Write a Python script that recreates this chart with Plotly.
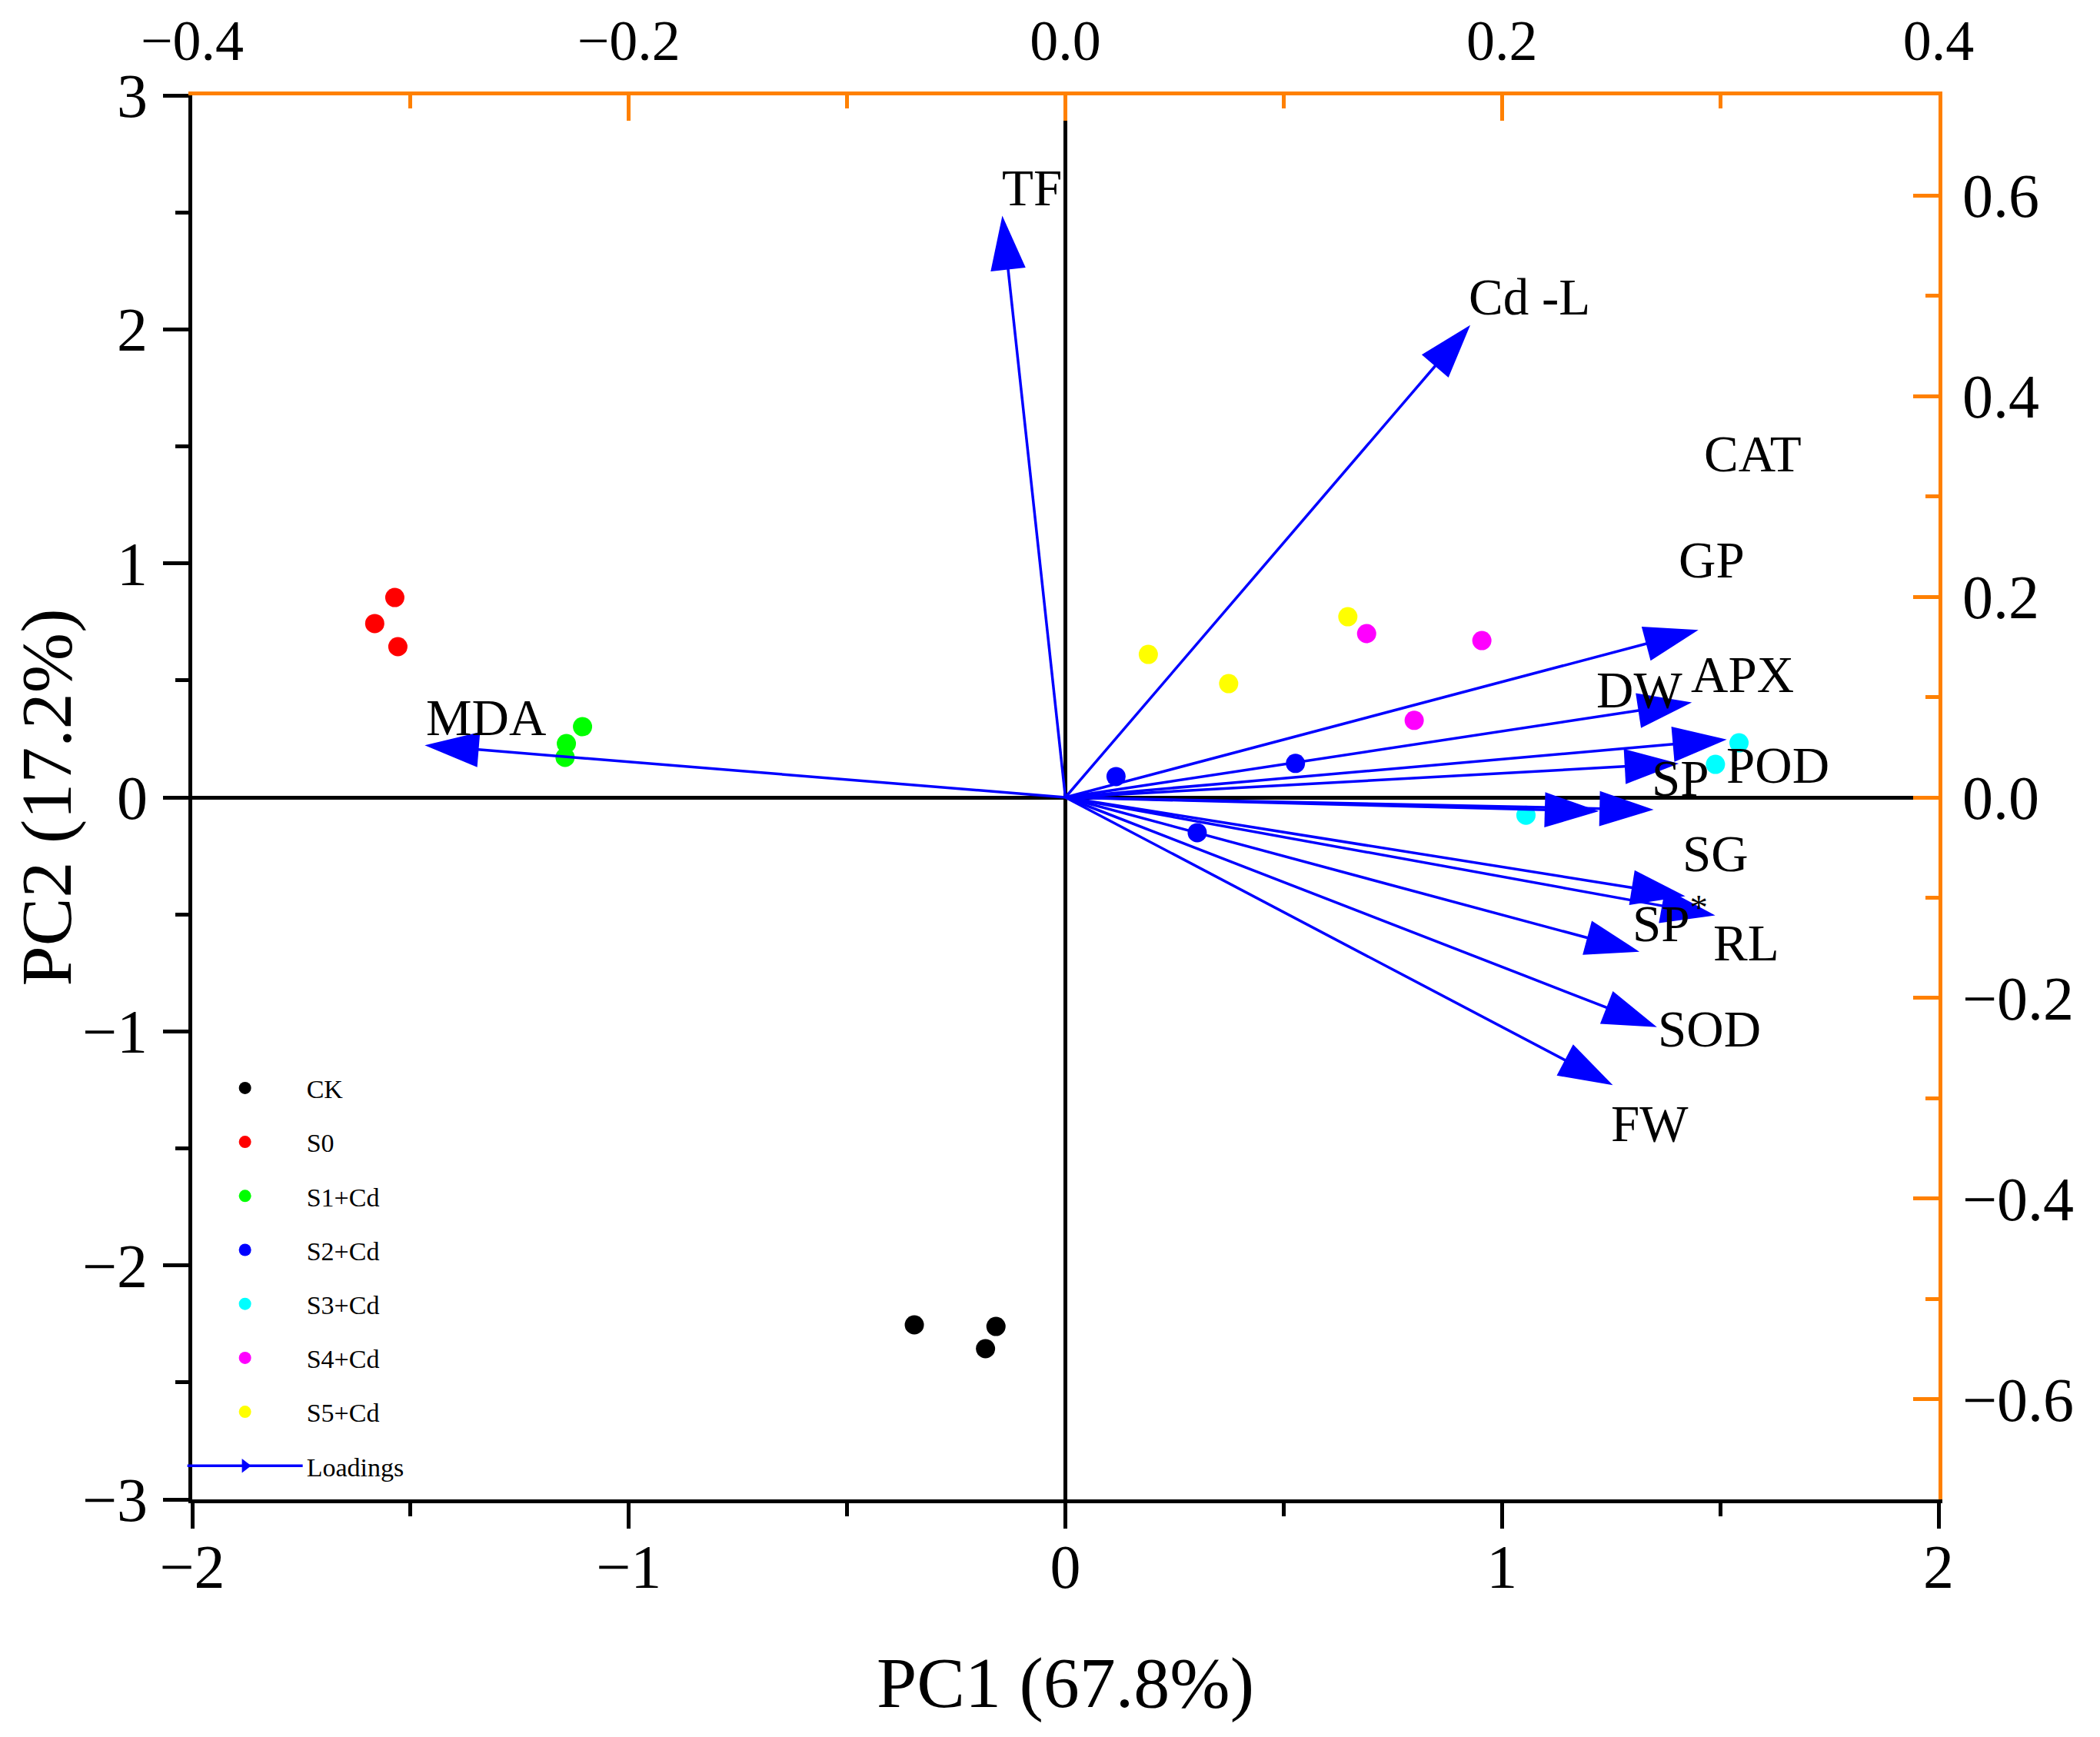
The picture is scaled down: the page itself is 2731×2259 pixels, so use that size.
import plotly.graph_objects as go

# ---- scores (PC1, PC2) ----
groups = ["CK", "S0", "S1+Cd", "S2+Cd", "S3+Cd", "S4+Cd", "S5+Cd"]
group_colors = ["#000000", "#FF0000", "#00FF00", "#0000FF", "#00FFFF", "#FF00FF", "#FFFF00"]
pc1_scores = [
    [-0.346, -0.159, -0.183],
    [-1.536, -1.582, -1.529],
    [-1.106, -1.143, -1.146],
    [0.116, 0.527, 0.302],
    [1.543, 1.489, 1.055],
    [0.690, 0.954, 0.799],
    [0.190, 0.374, 0.647],
]
pc2_scores = [
    [-2.254, -2.261, -2.356],
    [0.854, 0.743, 0.644],
    [0.302, 0.230, 0.171],
    [0.089, 0.145, -0.151],
    [0.233, 0.141, -0.076],
    [0.700, 0.670, 0.329],
    [0.611, 0.486, 0.772],
]

# ---- loadings (arrow tips on top / right axes) ----
load_x = [-0.0289, 0.1855, -0.2935, 0.290, 0.287, 0.303, 0.281, 0.2444, 0.2695, 0.284, 0.2977, 0.263, 0.271, 0.2508]
load_y = [0.580, 0.471, 0.052, 0.167, 0.0946, 0.0577, 0.0338, -0.0138, -0.0123, -0.0985, -0.1177, -0.154, -0.229, -0.287]

# ---- variable labels and their positions (loadings coords) ----
var_labels = ["TF", "Cd -L", "MDA", "CAT", "GP", "APX", "DW", "POD", "SP", "SG", "SP<sup>*</sup>", "RL", "SOD", "FW"]
label_x = [-0.0155, 0.2127, -0.2653, 0.315, 0.296, 0.3100, 0.2630, 0.3265, 0.2818, 0.298, 0.277, 0.312, 0.295, 0.2676]
label_y = [0.608, 0.499, 0.080, 0.343, 0.237, 0.1223, 0.1077, 0.0323, 0.0192, -0.056, -0.122, -0.1446, -0.2308, -0.3254]

FONT = "Liberation Serif"
ORANGE = "#FF8000"
BLUE = "#0000FF"

fig = go.Figure()

# arrows
ax_x, ax_y, ax_s = [], [], []
for lx, ly in zip(load_x, load_y):
    ax_x += [0, lx, None]
    ax_y += [0, ly, None]
    ax_s += [0, 74, 0]
fig.add_trace(go.Scatter(
    x=ax_x, y=ax_y, xaxis="x2", yaxis="y2", mode="lines+markers",
    line=dict(color=BLUE, width=3.5),
    marker=dict(symbol="arrow", size=ax_s, angleref="previous", color=BLUE, opacity=1,
                line=dict(width=0)),
    showlegend=False, hoverinfo="skip", cliponaxis=False,
))

for g, c, xs, ys in zip(groups, group_colors, pc1_scores, pc2_scores):
    fig.add_trace(go.Scatter(
        x=xs, y=ys, mode="markers", name=g, legendgroup=g,
        marker=dict(color=c, size=25, opacity=1, line=dict(width=0)),
    ))

fig.add_trace(go.Scatter(
    x=[None], y=[None], mode="lines+markers", name="Loadings", legendgroup="Loadings",
    line=dict(color=BLUE, width=3.5),
    marker=dict(symbol="triangle-right", color=BLUE, size=24, opacity=1),
))

for t, x, y in zip(var_labels, label_x, label_y):
    fig.add_annotation(x=x, y=y, xref="x2", yref="y2", text=t, showarrow=False,
                       font=dict(family=FONT, size=67, color="black"))

tickfont = dict(family=FONT, size=80, color="black")
common = dict(showgrid=False, ticks="outside", ticklen=33, tickwidth=5, linewidth=5, mirror=False,
              showline=True, tickfont=tickfont, automargin=False)

# page body has an 8px margin: shrink the figure so the plot area lands where the reference has it
fig.update_layout(
    width=2715, height=2243,
    margin=dict(l=242, r=202, t=116, b=301, pad=0, autoexpand=False),
    paper_bgcolor="white", plot_bgcolor="white",
    font=dict(family=FONT, color="black"),
    xaxis=dict(range=[-2, 2], dtick=1, linecolor="black", tickcolor="black",
               zeroline=True, zerolinecolor="black", zerolinewidth=5,
               minor=dict(dtick=0.5, ticks="outside", ticklen=17, tickwidth=5, tickcolor="black"),
               title=dict(text="PC1 (67.8%)", font=dict(family=FONT, size=94), standoff=75),
               ticklabelstandoff=-19, **common),
    yaxis=dict(range=[-3, 3], dtick=1, linecolor="black", tickcolor="black",
               zeroline=True, zerolinecolor="black", zerolinewidth=5,
               minor=dict(dtick=0.5, ticks="outside", ticklen=17, tickwidth=5, tickcolor="black"),
               title=dict(text="PC2 (17.2%)", font=dict(family=FONT, size=94), standoff=64),
               ticklabelstandoff=4, **common),
    xaxis2=dict(range=[-0.4, 0.4], dtick=0.2, tickformat=".1f", overlaying="x", side="top",
                linecolor=ORANGE, tickcolor=ORANGE, zeroline=False, automargin=False,
                showgrid=False, ticks="inside", ticklen=33, tickwidth=5, linewidth=5, showline=True,
                tickfont=dict(family=FONT, size=74, color="black"), ticklabelstandoff=11,
                minor=dict(dtick=0.1, ticks="inside", ticklen=17, tickwidth=5, tickcolor=ORANGE)),
    yaxis2=dict(range=[-0.7, 0.7], dtick=0.2, tickformat=".1f", overlaying="y", side="right",
                linecolor=ORANGE, tickcolor=ORANGE, zeroline=False, automargin=False,
                showgrid=False, ticks="inside", ticklen=33, tickwidth=5, linewidth=5, showline=True,
                tickfont=tickfont, ticklabelstandoff=10,
                minor=dict(dtick=0.1, ticks="inside", ticklen=17, tickwidth=5, tickcolor=ORANGE)),
    legend=dict(x=-0.005, y=0.3087, xanchor="left", yanchor="top",
                font=dict(family=FONT, size=34, color="black"),
                bgcolor="rgba(0,0,0,0)", tracegroupgap=23, itemwidth=150, itemsizing="trace"),
)

fig.write_html("out.html")
